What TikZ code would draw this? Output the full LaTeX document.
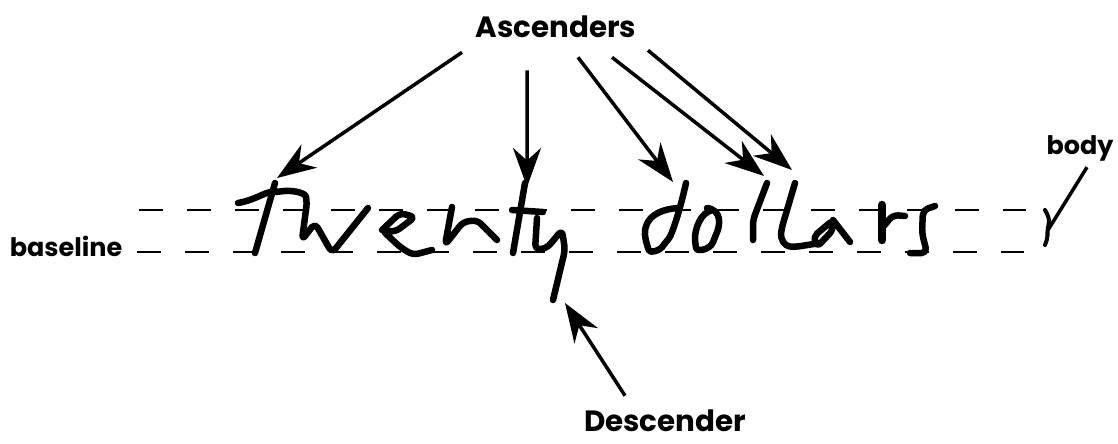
\documentclass[tikz,border=0pt]{standalone}
\usepackage{fontspec}
\setmainfont{Poppins}
\usetikzlibrary{arrows.meta}
\tikzset{
    ink/.style={line width=.13cm, line cap=round, line join=round, rounded corners=3pt},
    guide/.style={line width=.055cm, dash pattern=on .48cm off .48cm},
    pointer/.style={line width=.07cm, -{Stealth[length=.78cm, width=.56cm, inset=.25cm]}},
    biglabel/.style={font=\fontsize{16.7}{20}\selectfont\bfseries, inner sep=0pt},
    smalllabel/.style={font=\fontsize{14.5}{17}\selectfont\bfseries, inner sep=0pt}
}
\begin{document}
\begin{tikzpicture}[x=.02cm, y=-.02cm]
    \useasboundingbox (0,0) rectangle (1118,443);
    \node[biglabel] (ascenders) at (556,27) {Ascenders};
    \node[biglabel] (descender) at (665,421) {Descender};
    \node[smalllabel] (baseline) at (66,246) {baseline};
    \node[smalllabel] (body) at (1080,148) {body};
    \coordinate (tipa) at (277,178);
    \coordinate (tipb) at (527,187);
    \coordinate (tipc) at (673,182);
    \coordinate (tipd) at (764,176);
    \coordinate (tipe) at (792,170);
    \coordinate (tipf) at (565,303);
    \coordinate (brace) at (1048,230);
    \draw[guide] (139,210) -- (1026,210);
    \draw[guide] (137,252) -- (1024,252);
    \draw[pointer] ([xshift=-1.88cm,yshift=-.28cm]ascenders.south) -- (tipa);
    \draw[pointer] ([xshift=-.58cm,yshift=-.64cm]ascenders.south) -- (tipb);
    \draw[pointer] ([xshift=.44cm,yshift=-.38cm]ascenders.south) -- (tipc);
    \draw[pointer] ([xshift=1.12cm,yshift=-.38cm]ascenders.south) -- (tipd);
    \draw[pointer] ([xshift=1.84cm,yshift=-.24cm]ascenders.south) -- (tipe);
    \draw[pointer] ([xshift=-.8cm,yshift=.28cm]descender.north) -- (tipf);
    \draw[line width=.07cm] ([xshift=.14cm,yshift=-.12cm]body.south) -- (brace);
    \draw[ink] (275,183) -- (255,253);
    \draw[ink] (238,203) .. controls (255,200) and (265,192) .. (277,192) .. controls (290,190) and (305,192) .. (307,202) -- (302,240) -- (315,223) -- (332,253) -- (368,208);
    \draw[ink] (382,230) -- (400,213) -- (415,217) -- (395,232) -- (382,230) -- (400,247) -- (413,255) -- (432,250);
    \draw[ink] (452,207) -- (445,245) -- (463,222) -- (477,220) -- (497,240);
    \draw[ink] (525,183) -- (513,253);
    \draw[ink] (512,210) -- (543,212);
    \draw[ink] (537,218) -- (535,250) -- (547,248) -- (562,230) -- (565,250) -- (553,300);
    \draw[ink] (686,183) .. controls (680,210) and (672,235) .. (665,243) .. controls (660,250) and (650,254) .. (647,245) .. controls (642,225) and (650,210) .. (678,208);
    \draw[ink] (713,210) .. controls (700,212) and (695,230) .. (695,243) .. controls (697,252) and (710,250) .. (715,237) .. controls (720,225) and (722,210) .. (707,208);
    \draw[ink] (767,183) -- (753,220) -- (753,240);
    \draw[ink] (795,183) -- (782,227) .. controls (780,240) and (785,246) .. (795,247) -- (820,243);
    \draw[ink] (833,220) -- (813,237) -- (817,247) -- (833,230) -- cycle;
    \draw[ink] (833,220) -- (850,242);
    \draw[ink, line width=.17cm] (882,205) -- (882,240);
    \draw[ink] (883,227) -- (893,215) -- (905,216);
    \draw[ink] (935,206) -- (923,210) -- (922,233) -- (927,253) -- (910,253);
    \draw[ink, line width=.08cm] (1045,210) -- (1050,220) -- (1047,230) -- (1048,237) -- (1045,245);
\end{tikzpicture}
\end{document}
